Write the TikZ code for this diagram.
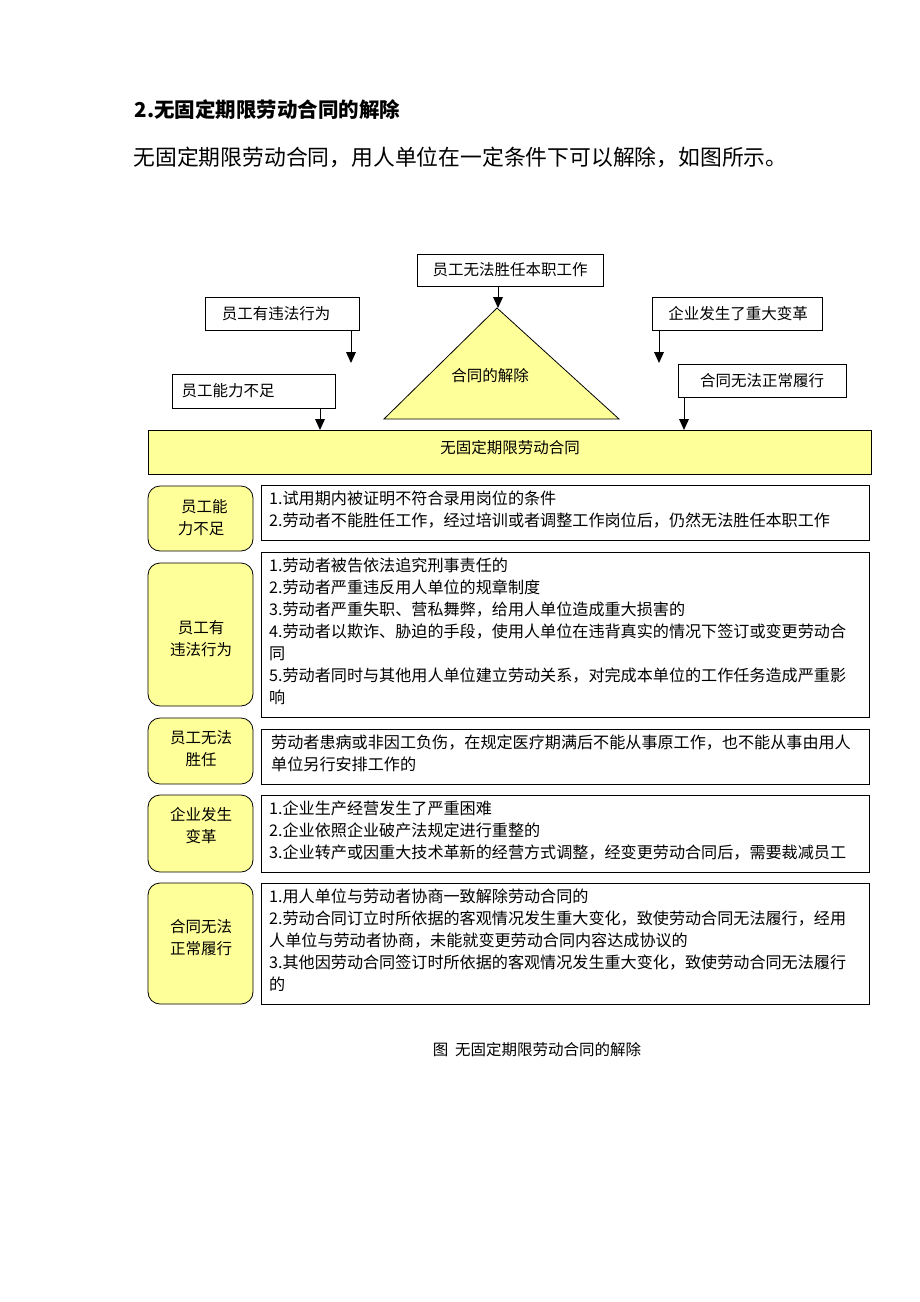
\documentclass[tikz,border=0pt]{standalone}
\usepackage{fontspec}
\setmainfont{Noto Sans CJK SC}
\begin{document}
\begin{tikzpicture}[x=1pt,y=-1pt,
  box/.style={draw=black,line width=0.8pt,inner sep=0pt,font=\fontsize{15.5}{17}\selectfont},
  lbl/.style={draw=black,line width=0.8pt,rounded corners=12pt,fill=yel},
  lt/.style={align=center,font=\fontsize{15.5}{22}\selectfont},
  txt/.style={anchor=north west,align=left,text width=600pt,inner sep=0pt,font=\fontsize{16.1}{22}\selectfont},
  arr/.style={line width=1pt}]
\definecolor{yel}{HTML}{FFFF99}
\useasboundingbox (0,0) rectangle (920,1302);
\node[anchor=west,font=\bfseries\fontsize{20.5}{22}\selectfont] (t1) at (131,110) {2.无固定期限劳动合同的解除};
\node[anchor=west,font=\fontsize{21.8}{24}\selectfont] (t2) at (130,157) {无固定期限劳动合同，用人单位在一定条件下可以解除，如图所示。};
% top boxes
\draw[box] (417,254) rectangle (603,286); \node[box,draw=none] (b1) at (510,270) {员工无法胜任本职工作};
\draw[box] (205,297) rectangle (359,330); \node[box,draw=none] (b2) at (276,314) {员工有违法行为};
\draw[box] (172,374) rectangle (335,408); \node[box,draw=none] (b3) at (228,391) {员工能力不足};
\draw[box] (652,297) rectangle (822,330); \node[box,draw=none] (b4) at (738,314) {企业发生了重大变革};
\draw[box] (678,364) rectangle (846,397); \node[box,draw=none] (b5) at (762,381) {合同无法正常履行};
\draw[line width=0.8pt,fill=yel] (497,308) -- (619,419) -- (384,419) -- cycle;
\node[font=\fontsize{15.5}{17}\selectfont] (tri) at (490,376) {合同的解除};
\draw[line width=0.8pt,fill=yel] (148,430) rectangle (871,474);
\node[font=\fontsize{15.5}{17}\selectfont] (main) at (510,448) {无固定期限劳动合同};
\coordinate (a1s) at (498,286); \coordinate (a1e) at (498,308);
\coordinate (a2s) at (351,330); \coordinate (a2e) at (351,363);
\coordinate (a3s) at (320,408); \coordinate (a3e) at (320,430);
\coordinate (a4s) at (659,330); \coordinate (a4e) at (659,363);
\coordinate (a5s) at (684,397); \coordinate (a5e) at (684,430);
\foreach \s/\e in {a1s/a1e,a2s/a2e,a3s/a3e,a4s/a4e,a5s/a5e}{
  \draw[arr] (\s) -- ([yshift=6pt]\e);
  \fill (\e) -- ++(-5,-11) -- ++(10,0) -- cycle;
}
% rows
\draw[lbl] (148,486) rectangle (253,551); \node[lt] (l1) at (201,518) {\ \ 员工能\\力不足};
\draw[line width=0.8pt] (261,485) rectangle (869,540);
\node[txt] (r1) at (269,491) {1.试用期内被证明不符合录用岗位的条件\\2.劳动者不能胜任工作，经过培训或者调整工作岗位后，仍然无法胜任本职工作};
\draw[lbl] (148,563) rectangle (253,706); \node[lt] (l2) at (201,639) {员工有\\违法行为};
\draw[line width=0.8pt] (261,552) rectangle (869,717);
\node[txt] (r2) at (269,558) {1.劳动者被告依法追究刑事责任的\\2.劳动者严重违反用人单位的规章制度\\3.劳动者严重失职、营私舞弊，给用人单位造成重大损害的\\4.劳动者以欺诈、胁迫的手段，使用人单位在违背真实的情况下签订或变更劳动合\\同\\5.劳动者同时与其他用人单位建立劳动关系，对完成本单位的工作任务造成严重影\\响};
\draw[lbl] (148,718) rectangle (253,784); \node[lt] (l3) at (201,749) {员工无法\\胜任};
\draw[line width=0.8pt] (261,729) rectangle (869,784);
\node[txt] (r3) at (271,735) {劳动者患病或非因工负伤，在规定医疗期满后不能从事原工作，也不能从事由用人\\单位另行安排工作的};
\draw[lbl] (148,795) rectangle (253,872); \node[lt] (l4) at (201,826) {企业发生\\变革};
\draw[line width=0.8pt] (261,795) rectangle (869,872);
\node[txt] (r4) at (269,801) {1.企业生产经营发生了严重困难\\2.企业依照企业破产法规定进行重整的\\3.企业转产或因重大技术革新的经营方式调整，经变更劳动合同后，需要裁减员工};
\draw[lbl] (148,883) rectangle (253,1004); \node[lt] (l5) at (201,938) {合同无法\\正常履行};
\draw[line width=0.8pt] (261,883) rectangle (869,1004);
\node[txt] (r5) at (269,889) {1.用人单位与劳动者协商一致解除劳动合同的\\2.劳动合同订立时所依据的客观情况发生重大变化，致使劳动合同无法履行，经用\\人单位与劳动者协商，未能就变更劳动合同内容达成协议的\\3.其他因劳动合同签订时所依据的客观情况发生重大变化，致使劳动合同无法履行\\的};
\node[font=\fontsize{15.5}{17}\selectfont] (cap) at (537,1050) {图\ \ 无固定期限劳动合同的解除};
\end{tikzpicture}
\end{document}
